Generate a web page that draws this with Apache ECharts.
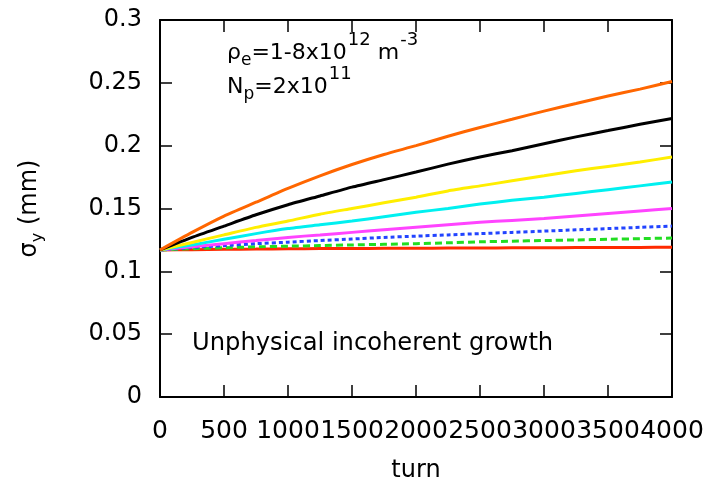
<!DOCTYPE html>
<html><head><meta charset="utf-8">
<script src="https://cdn.jsdelivr.net/npm/echarts@6/dist/echarts.min.js"></script>
<style>html,body{margin:0;padding:0;background:#fff}#c{width:711px;height:488px}</style>
</head><body><div id="c"></div>
<script>
const turns = [0,250,500,750,1000,1250,1500,1750,2000,2250,2500,2750,3000,3250,3500,3750,4000];
const sigOrange  = [0.117,0.131,0.144,0.155,0.166,0.176,0.185,0.193,0.200,0.2075,0.2145,0.221,0.2275,0.2335,0.2395,0.245,0.251];
const sigBlack   = [0.117,0.127,0.136,0.145,0.153,0.160,0.167,0.173,0.179,0.1853,0.191,0.196,0.2015,0.207,0.212,0.217,0.2216];
const sigYellow  = [0.117,0.123,0.129,0.135,0.140,0.1455,0.150,0.1545,0.159,0.164,0.168,0.172,0.176,0.180,0.1835,0.187,0.191];
const sigCyan    = [0.117,0.121,0.1255,0.130,0.134,0.137,0.140,0.1435,0.147,0.150,0.1535,0.1565,0.159,0.162,0.165,0.168,0.171];
const sigMagenta = [0.117,0.1195,0.122,0.1245,0.127,0.129,0.131,0.133,0.135,0.137,0.139,0.1405,0.142,0.144,0.146,0.148,0.150];
const sigBlue    = [0.117,0.119,0.1205,0.122,0.1232,0.1245,0.1257,0.127,0.128,0.129,0.130,0.131,0.132,0.133,0.134,0.135,0.136];
const sigGreen   = [0.117,0.118,0.1188,0.1195,0.120,0.1205,0.121,0.1215,0.122,0.1227,0.1235,0.124,0.1245,0.125,0.1255,0.126,0.1265];
const sigRed     = [0.117,0.1172,0.1175,0.1177,0.118,0.1181,0.1182,0.1183,0.1184,0.1185,0.1186,0.1187,0.1188,0.1189,0.119,0.119,0.1192];
const xTicks = [0,500,1000,1500,2000,2500,3000,3500,4000];
const yTicks = [0,0.05,0.1,0.15,0.2,0.25,0.3];

const FONT = 'DejaVu Sans';
const pair = arr => turns.map((t,i)=>[t, arr[i]]);
const mk = (name, arr, color, dash) => ({
  name, type:'line', data: pair(arr), showSymbol:false, smooth:0.2,
  lineStyle:{color, width:3, type: dash || 'solid'}
});
const axisCommon = {
  axisLine:{show:true, onZero:false, lineStyle:{color:'#000', width:2}},
  axisTick:{show:true, inside:true, length:12, lineStyle:{color:'#000', width:1.5}},
  splitLine:{show:false}
};
const richSet = {
  n:{fontFamily:FONT, fontSize:22, fontWeight:'normal', color:'#000', lineHeight:28, verticalAlign:'bottom'},
  sub:{fontFamily:FONT, fontSize:17, fontWeight:'normal', color:'#000', lineHeight:17, verticalAlign:'bottom', padding:[0,0,-5,0]},
  sup:{fontFamily:FONT, fontSize:18, fontWeight:'normal', color:'#000', lineHeight:18, verticalAlign:'bottom', padding:[0,0,15,1]}
};
const chart = echarts.init(document.getElementById('c'), null, {renderer:'canvas'});
chart.setOption({
  animation:false,
  backgroundColor:'#fff',
  grid:{left:160, right:39, top:20, bottom:83, containLabel:false},
  xAxis:[
    Object.assign({type:'value', min:xTicks[0], max:xTicks[xTicks.length-1], interval:500, position:'bottom',
      name:'turn', nameLocation:'middle', nameGap:62,
      nameTextStyle:{fontFamily:FONT, fontSize:24, color:'#000'},
      axisLabel:{fontFamily:FONT, fontSize:25, color:'#000', margin:22, hideOverlap:false,
        showMinLabel:true, showMaxLabel:true, formatter:v=>String(v)}}, axisCommon),
    Object.assign({type:'value', min:xTicks[0], max:xTicks[xTicks.length-1], interval:500, position:'top',
      axisLabel:{show:false}}, axisCommon)
  ],
  yAxis:[
    Object.assign({type:'value', min:yTicks[0], max:yTicks[yTicks.length-1], interval:0.05, position:'left',
      name:'{s|σ}{sub|y}{s| (mm)}', nameLocation:'middle', nameGap:118, nameRotate:90,
      nameTextStyle:{fontFamily:FONT, fontSize:24, color:'#000',
        rich:{s:{fontFamily:FONT, fontSize:24, color:'#000', lineHeight:30, verticalAlign:'bottom'},
              sub:{fontFamily:FONT, fontSize:16, color:'#000', lineHeight:16, verticalAlign:'bottom', padding:[0,0,-4,0]}}},
      axisLabel:{fontFamily:FONT, fontSize:24, color:'#000', margin:18, verticalAlign:'middle',
        lineHeight:24, padding:[7,0,0,0], formatter:v=>String(v)}}, axisCommon),
    Object.assign({type:'value', min:yTicks[0], max:yTicks[yTicks.length-1], interval:0.05, position:'right',
      axisLabel:{show:false}}, axisCommon)
  ],
  title:[
    {left:222, top:31, text:'{n|ρ}{sub|e}{n|=1-8x10}{sup|12}{n| m}{sup|-3}',
      textStyle:{fontWeight:'normal', rich:richSet}},
    {left:222, top:65, text:'{n|N}{sub|p}{n|=2x10}{sup|11}',
      textStyle:{fontWeight:'normal', rich:richSet}},
    {left:187, top:327, text:'Unphysical incoherent growth',
      textStyle:{fontFamily:FONT, fontSize:24.2, fontWeight:'normal', color:'#000'}}
  ],
  series:[
    mk('red', sigRed, '#ff2a00'),
    mk('green', sigGreen, '#22dd22', [7,4]),
    mk('blue', sigBlue, '#2244ff', [4,3]),
    mk('magenta', sigMagenta, '#ff44ff'),
    mk('cyan', sigCyan, '#00f0f0'),
    mk('yellow', sigYellow, '#ffee00'),
    mk('black', sigBlack, '#000000'),
    mk('orange', sigOrange, '#ff6600')
  ]
});
</script></body></html>
